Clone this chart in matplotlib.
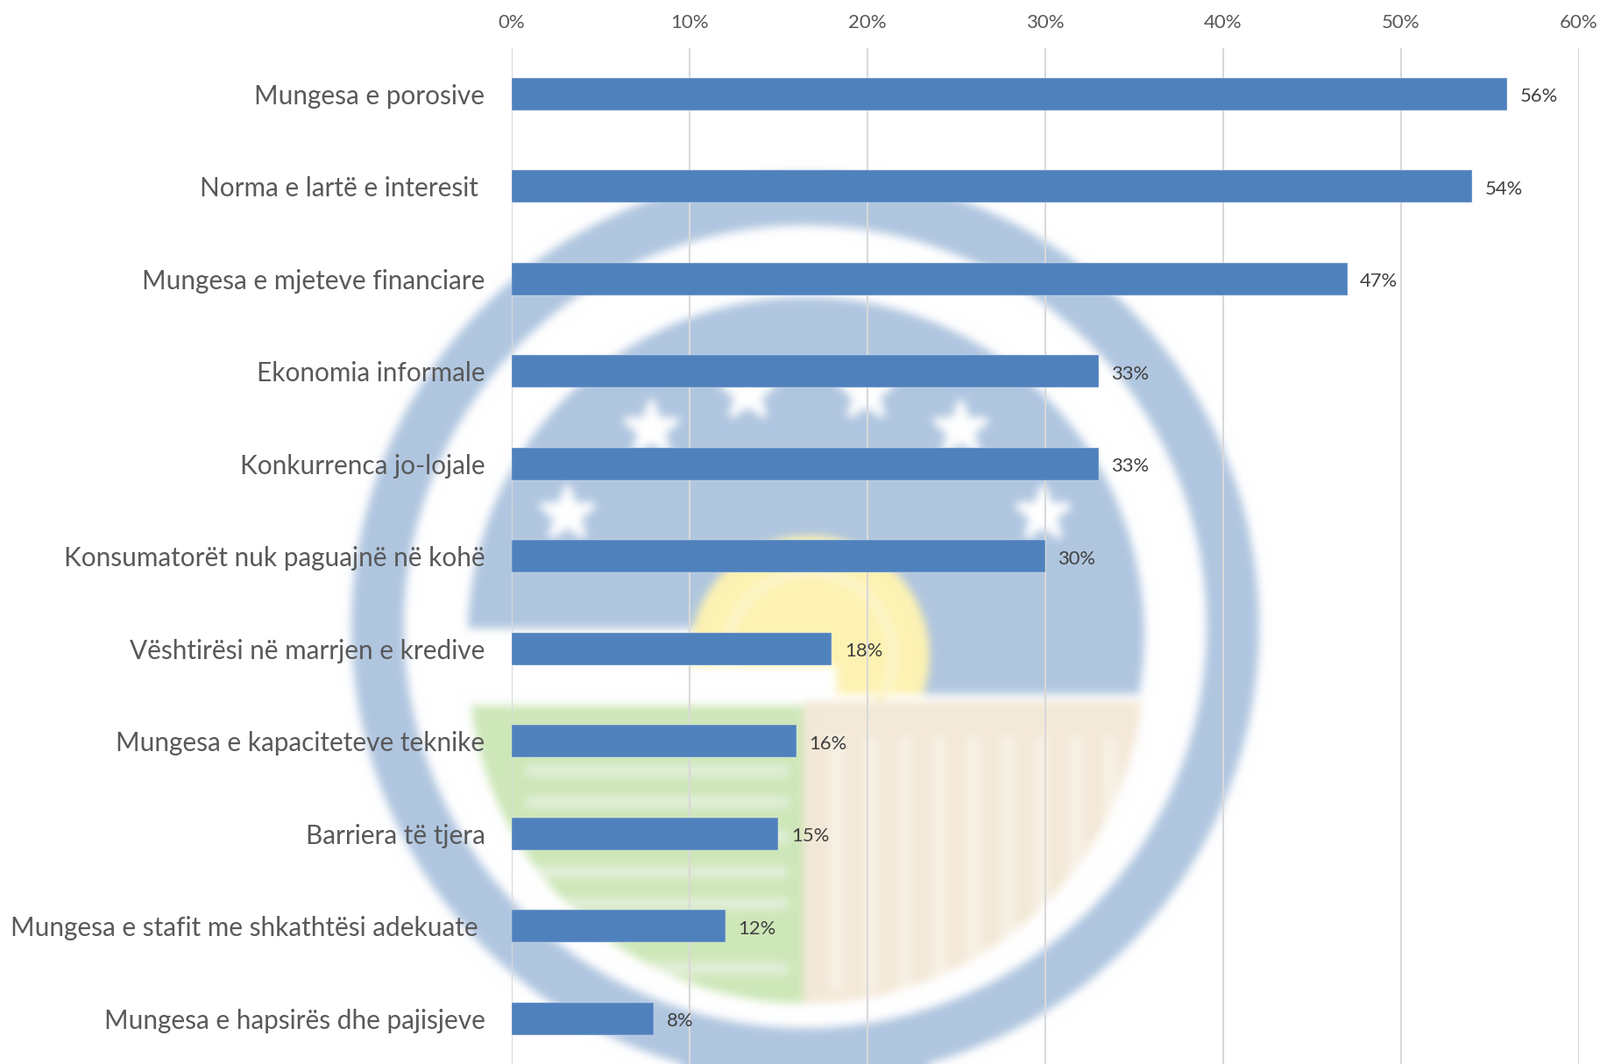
import numpy as np
import matplotlib
matplotlib.use('Agg')
import matplotlib.pyplot as plt
from matplotlib.patches import Circle, Polygon, Rectangle

categories = ['Mungesa e porosive', 'Norma e lartë e interesit ', 'Mungesa e mjeteve financiare',
              'Ekonomia informale', 'Konkurrenca jo-lojale', 'Konsumatorët nuk paguajnë në kohë',
              'Vështirësi në marrjen e kredive', 'Mungesa e kapaciteteve teknike', 'Barriera të tjera',
              'Mungesa e stafit me shkathtësi adekuate ', 'Mungesa e hapsirës dhe pajisjeve']
values = [56, 54, 47, 33, 33, 30, 18, 16, 15, 12, 8]
xticks = [0, 10, 20, 30, 40, 50, 60]

W, H = 1826, 1214
plt.rcParams['font.family'] = ['Lato', 'DejaVu Sans']


# размытый логотип на фоне
def make_logo():
    f = plt.figure(figsize=(W / 100, H / 100), dpi=100, facecolor='white')
    a = f.add_axes([0, 0, 1, 1])
    a.set_xlim(0, W)
    a.set_ylim(H, 0)
    a.axis('off')
    blue = '#B0C6E0'
    # кольцо
    a.add_patch(Circle((919, 715), 488, fill=False, ec=blue, lw=60 * 0.72))
    # верхний синий диск
    disc = Circle((920, 725), 386, fc=blue, ec='none')
    a.add_patch(disc)
    disc.set_clip_path(Polygon([(0, 0), (W, 0), (W, 792), (924, 792), (924, 717), (0, 717)],
                               transform=a.transData))
    # солнце
    sun = Circle((924, 748), 137, fc='#FDF2B2', ec='none')
    a.add_patch(sun)
    sun.set_clip_path(Rectangle((0, 0), W, 792, transform=a.transData))
    a.add_patch(Circle((924, 748), 95, fill=False, ec='#FEF6CC', lw=8))
    a.add_patch(Rectangle((780, 760), 175, 45, fc='white', ec='none'))
    # нижняя часть
    lo = Circle((920, 760), 385, transform=a.transData)
    green = Rectangle((530, 805), 387, 400, fc='#CDE7B8', ec='none')
    beige = Rectangle((917, 800), 400, 400, fc='#F4E9D8', ec='none')
    a.add_patch(green)
    a.add_patch(beige)
    green.set_clip_path(lo)
    beige.set_clip_path(lo)
    for y0 in [879, 915, 955, 995, 1031, 1105]:
        s = Rectangle((600, y0 - 7), 300, 14, fc='#E2EFD9', ec='none')
        a.add_patch(s)
        s.set_clip_path(lo)
    for x0 in range(955, 1270, 39):
        s = Rectangle((x0 - 8, 840), 16, 290, fc='#F7F1E6', ec='none')
        a.add_patch(s)
        s.set_clip_path(lo)
    # звёзды
    a.plot([647, 743, 853, 988, 1096, 1190], [586, 489, 448, 448, 489, 586], ls='none',
           marker='*', ms=46, mfc='white', mec='white', mew=5)
    f.canvas.draw()
    img = np.asarray(f.canvas.buffer_rgba())[:, :, :3].astype(float)
    plt.close(f)
    # гауссово размытие по двум осям
    t = np.arange(-15, 16)
    k = np.exp(-t ** 2 / (2 * 5.0 ** 2))
    k = k / k.sum()
    pad = np.pad(img, ((15, 15), (15, 15), (0, 0)), mode='edge')
    for c in range(3):
        pad[:, :, c] = np.apply_along_axis(lambda r: np.convolve(r, k, mode='same'), 0, pad[:, :, c])
        pad[:, :, c] = np.apply_along_axis(lambda r: np.convolve(r, k, mode='same'), 1, pad[:, :, c])
    return pad[15:-15, 15:-15] / 255


fig = plt.figure(figsize=(W / 100, H / 100), dpi=100, facecolor='white')
fig.figimage(make_logo(), 0, 0, origin='upper', zorder=-1)

# оси в пикселях: 0% на x=584, 60% на x=1801.5
ax = fig.add_axes([584 / W, 1 - 1215.2 / H, 1217.5 / W, (1215.2 - 54.7) / H])
ax.set_zorder(2)
ax.patch.set_alpha(0)
y = np.arange(len(values))
ax.barh(y, values, height=0.35, color='#4F81BD', edgecolor='#DCE6F1', linewidth=0.3, zorder=3)
ax.set_xlim(0, 60)
ax.set_ylim(len(values) - 0.5, -0.5)

ax.xaxis.tick_top()
ax.set_xticks(xticks)
ax.set_xticklabels([f'{v}%' for v in xticks], fontsize=16, color='#595959')
ax.set_yticks(y)
ax.set_yticklabels(categories, fontsize=21.4, color='#595959')
ax.tick_params(axis='both', length=0)
ax.tick_params(axis='x', pad=13.5)
ax.tick_params(axis='y', pad=22)
ax.grid(axis='x', color='#D9D9D9', lw=1.5, zorder=1)
ax.set_axisbelow(True)
for s in ax.spines.values():
    s.set_visible(False)

for i, v in enumerate(values):
    ax.annotate(f'{v}%', (v, i), xytext=(10.5, -2), textcoords='offset points',
                va='center', ha='left', fontsize=15.8, color='#404040', zorder=4)

fig.savefig('out.png', dpi=100)
